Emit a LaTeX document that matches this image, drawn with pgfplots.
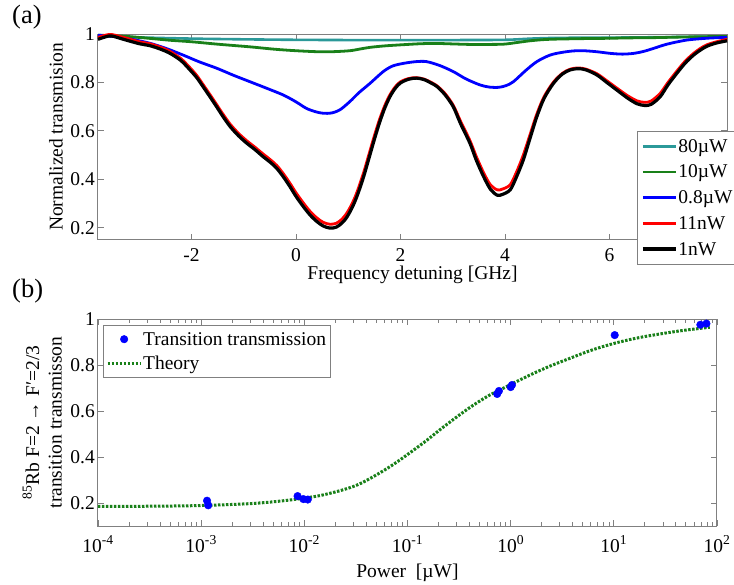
\documentclass[border=0pt]{standalone}
\usepackage{fontspec}
\setmainfont{Liberation Serif}
\usepackage{pgfplots}
\pgfplotsset{compat=1.18}

\definecolor{tealc}{rgb}{0.17,0.6,0.6}
\definecolor{greenc}{rgb}{0.1,0.5,0.1}
\newcommand{\fs}{\fontsize{19.5}{22.5}\selectfont}

\pgfplotsset{
  every axis/.append style={
    scale only axis,
    anchor=south west,
    axis line style={draw=gray, line width=1pt},
    tick style={gray, line width=0.9pt},
    major tick length=6pt,
    minor tick length=4pt,
    tick label style={font=\fs, black},
    label style={font=\fs},
    /pgf/number format/assume math mode=true,
    yticklabel style={anchor=east, inner sep=0pt, xshift=-3pt},
    legend cell align=left,
    legend image code/.code={\draw[#1] (0pt,0pt) -- (33pt,0pt);},
  },
  dotlegend/.style={legend image code/.code={\draw[##1] plot coordinates {(16.5pt,0pt)};}},
}

\begin{document}
\begin{tikzpicture}[x=1pt,y=1pt]
\path[use as bounding box] (0,0) rectangle (734,584);

% panel (a)
\begin{axis}[
  at={(98pt,344pt)}, width=629pt, height=206pt,
  xmin=-3.79, xmax=8.25, ymin=0.15, ymax=1,
  xtick={-2,0,2,4,6}, ytick={0.2,0.4,0.6,0.8,1},
  xticklabel style={anchor=base, yshift=-21.5pt},
  xlabel={Frequency detuning [GHz]},
  ylabel={Normalized transmision},
  xlabel style={at={(axis description cs:0.5,0)}, anchor=base, yshift=-40pt},
  ylabel style={at={(axis description cs:-0.0556,0.5)}, anchor=south, inner sep=0pt},
  clip=false,
  legend style={at={(axis description cs:0.857,0.529)}, anchor=north west,
    draw=gray, fill=white, font=\fs, inner sep=4pt, row sep=3.7pt,
    nodes={inner sep=1pt, text height=16pt, text depth=4pt}},
]
\addplot[tealc, line width=2.6pt, smooth] coordinates {
(-3.79,0.993) (-3.0,0.986) (-2.0,0.981) (-1.0,0.978) (0,0.976) (1.0,0.975)
(2.0,0.975) (3.0,0.975) (4.0,0.976) (4.5,0.981) (5.0,0.984) (6.0,0.985)
(7.0,0.987) (8.25,0.990)
};
\addlegendentry{80µW}
\addplot[greenc, line width=2.8pt, smooth] coordinates {
(-3.79,0.995) (-3.3,0.991) (-2.8,0.982) (-2.4,0.974) (-2.0,0.968) (-1.5,0.958)
(-0.88,0.947) (-0.4,0.937) (0,0.931) (0.4,0.927) (0.7,0.927)
(1.03,0.931) (1.25,0.939) (1.42,0.945) (1.7,0.951) (2.06,0.956) (2.4,0.960)
(2.7,0.961) (3.0,0.959) (3.33,0.957) (3.65,0.957) (3.97,0.958) (4.2,0.964)
(4.48,0.972) (4.75,0.977) (4.99,0.979) (5.5,0.981) (5.89,0.982) (6.4,0.984)
(6.85,0.985) (7.5,0.988) (8.25,0.990)
};
\addlegendentry{10µW}
\addplot[blue, line width=2.8pt, smooth] coordinates {
(-3.79,0.995) (-3.5,0.990) (-3.12,0.977) (-2.8,0.962) (-2.48,0.940) (-2.16,0.913)
(-1.85,0.885) (-1.52,0.859) (-1.2,0.830) (-0.88,0.803) (-0.56,0.776) (-0.24,0.748)
(0.0,0.720) (0.2,0.693) (0.38,0.679) (0.52,0.673) (0.68,0.674) (0.84,0.687)
(1.03,0.721) (1.2,0.757) (1.42,0.797) (1.67,0.845) (1.85,0.868) (2.06,0.879)
(2.3,0.886) (2.5,0.886) (2.75,0.870) (3.01,0.845) (3.25,0.815) (3.52,0.790)
(3.7,0.781) (3.88,0.780) (4.02,0.787) (4.16,0.803) (4.4,0.850) (4.61,0.886)
(4.85,0.912) (5.06,0.923) (5.3,0.930) (5.5,0.931) (5.75,0.927) (6.02,0.920)
(6.25,0.917) (6.46,0.920) (6.65,0.928) (6.85,0.941) (7.1,0.958) (7.48,0.975)
(7.9,0.983) (8.25,0.986)
};
\addlegendentry{0.8µW}
\addplot[red, line width=2.8pt, smooth] coordinates {
(-3.79,0.986) (-3.65,0.995) (-3.53,0.998) (-3.3,0.986) (-3.0,0.968) (-2.8,0.960)
(-2.6,0.946) (-2.41,0.928) (-2.2,0.898) (-2.03,0.861) (-1.9,0.829) (-1.78,0.792)
(-1.65,0.751) (-1.52,0.709) (-1.39,0.667) (-1.26,0.628) (-1.1,0.590) (-0.94,0.559)
(-0.78,0.532) (-0.63,0.505) (-0.5,0.483) (-0.37,0.458) (-0.24,0.423) (-0.115,0.384)
(0.0,0.345) (0.14,0.303) (0.27,0.268) (0.4,0.241) (0.52,0.223) (0.65,0.215)
(0.77,0.219) (0.875,0.235) (0.96,0.257) (1.03,0.282) (1.12,0.322) (1.2,0.367)
(1.3,0.432) (1.4,0.506) (1.5,0.580) (1.6,0.648) (1.7,0.705) (1.8,0.750)
(1.9,0.782) (2.0,0.803) (2.15,0.816) (2.3,0.820) (2.45,0.814) (2.6,0.799)
(2.7,0.786) (2.85,0.755) (3.01,0.706) (3.15,0.640) (3.33,0.560) (3.45,0.495)
(3.59,0.428) (3.72,0.378) (3.85,0.357) (3.95,0.360) (4.1,0.378) (4.22,0.430)
(4.35,0.500) (4.48,0.585) (4.61,0.670) (4.75,0.742) (4.93,0.802) (5.1,0.838)
(5.25,0.855) (5.4,0.860) (5.55,0.855) (5.76,0.836) (5.95,0.807) (6.14,0.777)
(6.35,0.745) (6.53,0.724) (6.68,0.718) (6.8,0.724) (6.97,0.755) (7.12,0.800)
(7.29,0.847) (7.45,0.888) (7.61,0.920) (7.75,0.942) (7.87,0.956) (8.05,0.968)
(8.25,0.978)
};
\addlegendentry{11nW}
\addplot[black, line width=3.2pt, smooth] coordinates {
(-3.79,0.978) (-3.65,0.988) (-3.53,0.992) (-3.3,0.978) (-3.0,0.960) (-2.8,0.952)
(-2.6,0.938) (-2.41,0.920) (-2.2,0.890) (-2.03,0.852) (-1.9,0.820) (-1.78,0.783)
(-1.65,0.742) (-1.52,0.700) (-1.39,0.657) (-1.26,0.618) (-1.1,0.580) (-0.94,0.549)
(-0.78,0.522) (-0.63,0.494) (-0.5,0.472) (-0.37,0.446) (-0.24,0.410) (-0.115,0.370)
(0.0,0.330) (0.14,0.288) (0.27,0.253) (0.4,0.226) (0.52,0.208) (0.65,0.199)
(0.77,0.203) (0.875,0.219) (0.96,0.240) (1.03,0.265) (1.12,0.305) (1.2,0.350)
(1.3,0.415) (1.4,0.490) (1.5,0.565) (1.6,0.635) (1.7,0.695) (1.8,0.742)
(1.9,0.776) (2.0,0.798) (2.15,0.813) (2.3,0.818) (2.45,0.812) (2.6,0.796)
(2.7,0.783) (2.85,0.750) (3.01,0.700) (3.15,0.630) (3.33,0.549) (3.45,0.480)
(3.59,0.412) (3.72,0.360) (3.85,0.335) (3.95,0.338) (4.1,0.357) (4.22,0.410)
(4.35,0.480) (4.48,0.570) (4.61,0.659) (4.75,0.735) (4.93,0.797) (5.1,0.835)
(5.25,0.852) (5.4,0.857) (5.55,0.852) (5.76,0.831) (5.95,0.800) (6.14,0.769)
(6.35,0.735) (6.53,0.712) (6.68,0.705) (6.8,0.710) (6.97,0.741) (7.12,0.790)
(7.29,0.838) (7.45,0.880) (7.61,0.913) (7.75,0.935) (7.87,0.950) (8.05,0.963)
(8.25,0.972)
};
\addlegendentry{1nW}
\end{axis}

% panel (b)
\begin{axis}[
  at={(98pt,58pt)}, width=619pt, height=207pt,
  xmode=log, xmin=1e-4, xmax=1e2, ymin=0.1, ymax=1,
  xtick={1e-4,1e-3,1e-2,1e-1,1,10,100},
  xticklabels={10\textsuperscript{-4},10\textsuperscript{-3},10\textsuperscript{-2},
    10\textsuperscript{-1},10\textsuperscript{0},10\textsuperscript{1},10\textsuperscript{2}},
  minor xtick={2e-4,3e-4,4e-4,5e-4,6e-4,7e-4,8e-4,9e-4,
    2e-3,3e-3,4e-3,5e-3,6e-3,7e-3,8e-3,9e-3,
    2e-2,3e-2,4e-2,5e-2,6e-2,7e-2,8e-2,9e-2,
    0.2,0.3,0.4,0.5,0.6,0.7,0.8,0.9,
    2,3,4,5,6,7,8,9,20,30,40,50,60,70,80,90},
  ytick={0.2,0.4,0.6,0.8,1},
  xticklabel style={anchor=base, yshift=-26pt},
  xlabel={Power\ \ [µW]},
  ylabel={\textsuperscript{85}Rb F=2 → F′=2/3\\transition transmisson},
  xlabel style={at={(axis description cs:0.5,0)}, anchor=base, yshift=-51pt},
  ylabel style={at={(axis description cs:-0.058,0.5)}, anchor=south, inner sep=0pt, align=center},
  legend style={at={(axis description cs:0.008,0.971)}, anchor=north west,
    draw=gray, fill=white, font=\fs, inner sep=3pt, row sep=2pt,
    nodes={inner sep=1pt, text height=16pt, text depth=4pt}},
]
\addplot[greenc, line width=3pt, dash pattern=on 2.5pt off 1.5pt, smooth, forget plot] coordinates {
(1e-4,0.185) (3.162e-4,0.186) (1e-3,0.189) (3.162e-3,0.198) (7.24e-3,0.213)
(1.514e-2,0.235) (3.236e-2,0.278) (6.761e-2,0.358) (0.1413,0.460) (0.2042,0.517)
(0.302,0.575) (0.4365,0.626) (0.631,0.670) (0.912,0.706) (1.549,0.757)
(2.399,0.795) (3.75,0.829) (6.03,0.864) (10.07,0.894) (15.85,0.915)
(24,0.930) (44.7,0.949) (85.1,0.964)
};
\addplot[only marks, mark=*, mark size=3.8pt, blue, dotlegend] coordinates {
(1.14e-3,0.210) (1.17e-3,0.190) (8.6e-3,0.230) (9.8e-3,0.217) (1.08e-2,0.215)
(0.74,0.674) (0.77,0.687) (1.0,0.704) (1.03,0.713) (10.2,0.930) (69,0.975) (79,0.980)
};
\addlegendentry{Transition transmission}
\addlegendimage{greenc, line width=3pt, dash pattern=on 2.5pt off 1.5pt}
\addlegendentry{Theory}
\end{axis}

\node[anchor=base west, inner sep=0pt, font=\fontsize{26.5}{30}\selectfont] at (12,560.7) {(a)};
\node[anchor=base west, inner sep=0pt, font=\fontsize{26.5}{30}\selectfont] at (12,286) {(b)};
\end{tikzpicture}
\end{document}
